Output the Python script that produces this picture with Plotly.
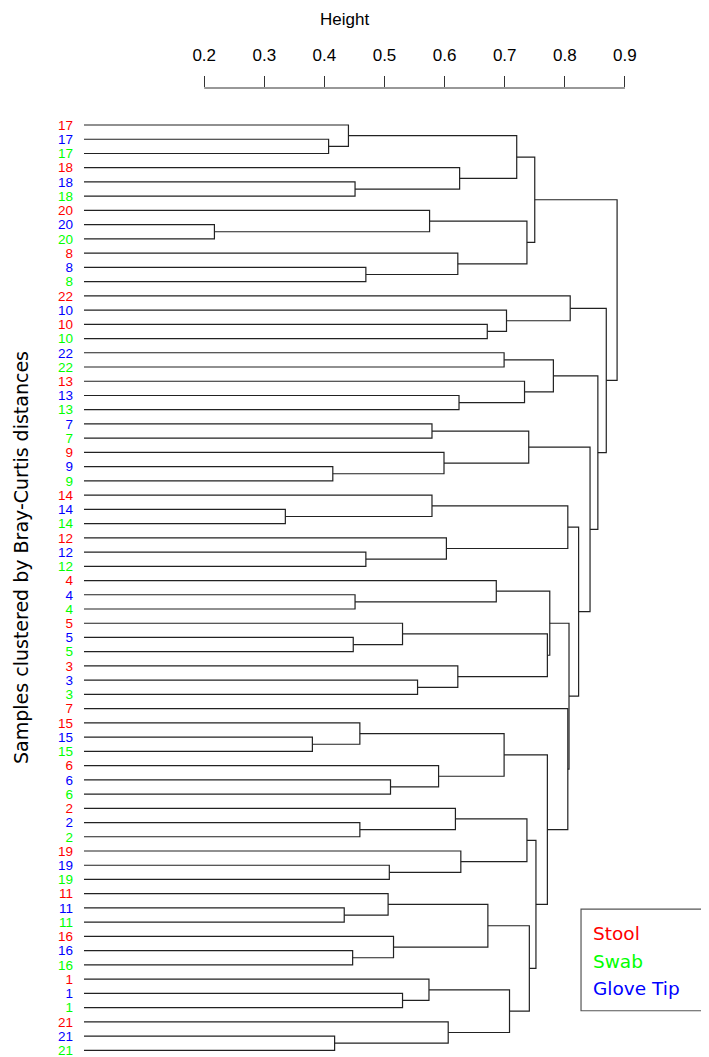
import plotly.graph_objects as go

# ---- data -------------------------------------------------------------
leaf_sample = [17, 17, 17, 18, 18, 18, 20, 20, 20, 8, 8, 8,
               22, 10, 10, 10, 22, 22, 13, 13, 13, 7, 7, 9, 9, 9,
               14, 14, 14, 12, 12, 12, 4, 4, 4, 5, 5, 5, 3, 3, 3,
               7, 15, 15, 15, 6, 6, 6, 2, 2, 2, 19, 19, 19,
               11, 11, 11, 16, 16, 16, 1, 1, 1, 21, 21, 21]
S, G, W = "Stool", "Glove Tip", "Swab"
leaf_type = [S, G, W, S, G, W, S, G, W, S, G, W,
             S, G, S, W, G, W, S, G, W, G, W, S, G, W,
             S, G, W, S, G, W, S, G, W, S, G, W, S, G, W,
             S, S, G, W, S, G, W, S, G, W, S, G, W,
             S, G, W, S, G, W, S, G, W, S, G, W]

# hclust-style merges: negative = leaf (1-based, display order), positive = earlier merge
merge_a = [-2, -1, -5, -4, 2, -8, -7, -11, -10, 7, 5,
           -15, -14, -13, -17, -20, -19, 15, -22, -25, -24, 19,
           -28, -27, -31, -30, 24, -34, -33, -37, -36, -40, -39, 31, 29,
           -44, -43, -47, -46, 37, -50, -49, -53, -52, 42,
           -56, -55, -59, -58, 47, -62, -61, -65, -64, 52, 50, 45, 40,
           -42, 35, 27, 22, 18, 14, 11]
merge_b = [-3, 1, -6, 3, 4, -9, 6, -12, 8, 9, 10,
           -16, 12, 13, -18, -21, 16, 17, -23, -26, 20, 21,
           -29, 23, -32, 25, 26, -35, 28, -38, 30, -41, 32, 33, 34,
           -45, 36, -48, 38, 39, -51, 41, -54, 43, 44,
           -57, 46, -60, 48, 49, -63, 51, -66, 53, 54, 55, 56, 57,
           58, 59, 60, 61, 62, 63, 64]
merge_height = [0.407, 0.440, 0.451, 0.625, 0.720, 0.217, 0.575, 0.469, 0.622, 0.737, 0.750,
                0.671, 0.703, 0.809, 0.699, 0.624, 0.733, 0.781, 0.579, 0.414, 0.599, 0.740,
                0.335, 0.579, 0.469, 0.603, 0.805, 0.451, 0.686, 0.448, 0.530, 0.555, 0.622, 0.771, 0.775,
                0.380, 0.459, 0.510, 0.590, 0.699, 0.459, 0.618, 0.508, 0.627, 0.737,
                0.433, 0.506, 0.447, 0.515, 0.672, 0.530, 0.574, 0.417, 0.606, 0.708, 0.741, 0.752, 0.771,
                0.805, 0.807, 0.823, 0.842, 0.855, 0.869, 0.887]

type_colors = {"Stool": "#FF0000", "Swab": "#00FF00", "Glove Tip": "#0000FF"}
legend_order = ["Stool", "Swab", "Glove Tip"]
tick_vals = [0.2, 0.3, 0.4, 0.5, 0.6, 0.7, 0.8, 0.9]

# ---- dendrogram geometry from merges ----------------------------------
n = len(leaf_sample)
node_pos = {}
node_h = {}
for i in range(n):
    node_pos[-(i + 1)] = i
    node_h[-(i + 1)] = 0.0

xs, ys = [], []
for k, (a, b, h) in enumerate(zip(merge_a, merge_b, merge_height), start=1):
    ya, yb = node_pos[a], node_pos[b]
    xs += [node_h[a], h, h, node_h[b], None]
    ys += [ya, ya, yb, yb, None]
    node_pos[k] = (ya + yb) / 2
    node_h[k] = h

fig = go.Figure()
fig.add_trace(go.Scatter(x=xs, y=ys, mode="lines",
                         line=dict(color="#222222", width=1.2),
                         hoverinfo="skip", showlegend=False))

tick_text = [f'<span style="color:{type_colors[t]}">{s}</span>'
             for s, t in zip(leaf_sample, leaf_type)]

# page body has an 8px margin, so the figure is 16px smaller than the window
W_PX, H_PX = 701, 1049
L, R, T, B = 76, 24, 80, 5
fig.update_layout(
    width=W_PX, height=H_PX,
    margin=dict(l=L, r=R, t=T, b=B, autoexpand=False),
    plot_bgcolor="white", paper_bgcolor="white",
    showlegend=False,
    xaxis=dict(range=[0, 1.0], side="top", tickvals=tick_vals,
               ticktext=[f"{v:.1f}" for v in tick_vals],
               ticks="outside", ticklen=11, tickwidth=1, tickcolor="#333333",
               ticklabelstandoff=8,
               showline=False, showgrid=False, zeroline=False,
               tickfont=dict(family="Liberation Sans, Arial", size=17, color="black")),
    yaxis=dict(range=[65.12, -2.6], tickvals=list(range(n)), ticktext=tick_text,
               ticks="", ticklabelstandoff=10, ticklabeloverflow="allow",
               showline=False, showgrid=False, zeroline=False,
               tickfont=dict(family="Liberation Sans, Arial", size=13.5)),
)

# axis line spanning the ticks only
fig.add_shape(type="line", xref="x", yref="paper",
              x0=min(tick_vals), x1=max(tick_vals), y0=1, y1=1,
              line=dict(color="#333333", width=1.2))

fig.add_annotation(text="Height", xref="paper", yref="paper",
                   x=0.4334, y=1.083, showarrow=False,
                   xanchor="center", yanchor="top",
                   font=dict(family="Liberation Sans, Arial", size=17, color="black"))

fig.add_annotation(text="Samples clustered by Bray-Curtis distances",
                   xref="paper", yref="paper", x=-0.1265, y=0.5135,
                   textangle=-90, showarrow=False,
                   xanchor="left", yanchor="middle",
                   font=dict(family="DejaVu Sans", size=19, color="black"))

# legend box
fig.add_shape(type="rect", xref="paper", yref="paper",
              x0=0.827, x1=1.0371, y0=0.0428, y1=0.1483,
              line=dict(color="#555555", width=1.2), fillcolor="rgba(0,0,0,0)")
for i, name in enumerate(legend_order):
    fig.add_annotation(text=name, xref="paper", yref="paper",
                       x=0.8431, y=0.1227 - i * 0.0286,
                       xanchor="left", yanchor="middle", showarrow=False,
                       font=dict(family="DejaVu Sans", size=18.5, color=type_colors[name]))

fig.write_html("out.html")
